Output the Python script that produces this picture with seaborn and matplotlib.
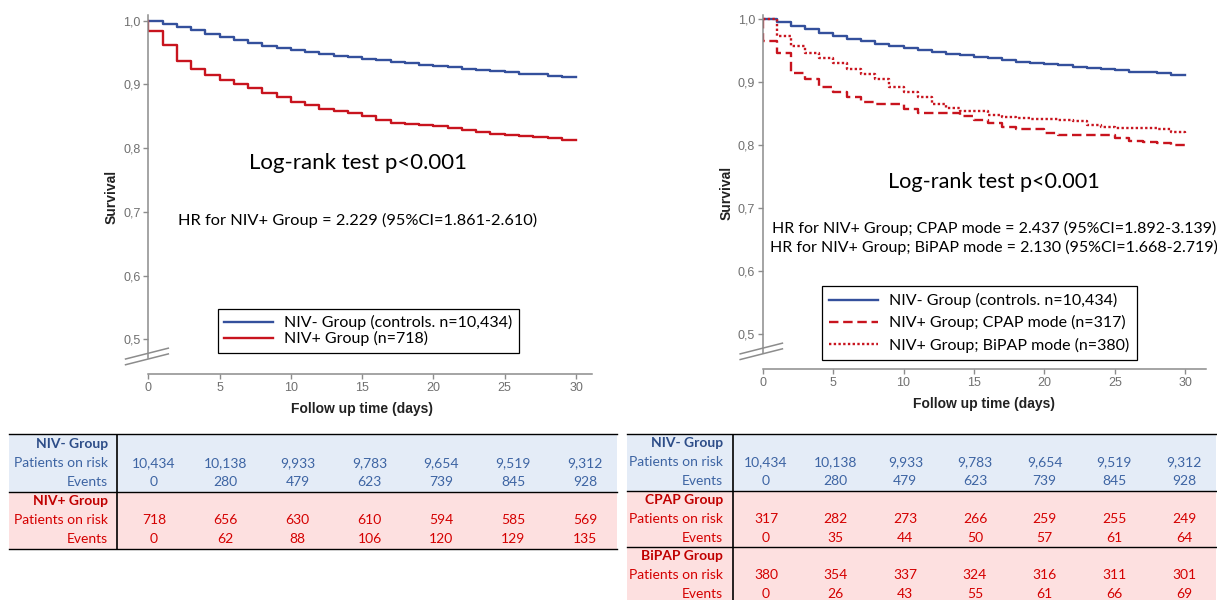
import seaborn as sns
import matplotlib.pyplot as plt
from matplotlib.ticker import FuncFormatter

# Kaplan-Meier survival, one value per follow-up day 0..30
DAYS = list(range(31))
niv_neg = [1.000, 0.995, 0.990, 0.985, 0.979, 0.974, 0.969, 0.965, 0.961, 0.957,
           0.954, 0.951, 0.948, 0.945, 0.943, 0.940, 0.938, 0.935, 0.933, 0.931,
           0.929, 0.927, 0.925, 0.923, 0.921, 0.919, 0.917, 0.916, 0.914, 0.912, 0.911]
niv_pos = [0.984, 0.962, 0.937, 0.925, 0.915, 0.907, 0.900, 0.895, 0.887, 0.880,
           0.872, 0.868, 0.862, 0.858, 0.855, 0.851, 0.844, 0.840, 0.838, 0.836,
           0.834, 0.831, 0.829, 0.826, 0.822, 0.821, 0.819, 0.817, 0.816, 0.813, 0.812]
cpap = [0.966, 0.947, 0.915, 0.905, 0.893, 0.885, 0.877, 0.868, 0.866, 0.866,
        0.857, 0.852, 0.852, 0.852, 0.846, 0.840, 0.836, 0.829, 0.826, 0.826,
        0.820, 0.817, 0.817, 0.816, 0.816, 0.811, 0.807, 0.806, 0.804, 0.801, 0.798]
bipap = [1.000, 0.974, 0.958, 0.947, 0.938, 0.930, 0.921, 0.913, 0.905, 0.893,
         0.884, 0.877, 0.866, 0.860, 0.855, 0.854, 0.848, 0.845, 0.843, 0.842,
         0.841, 0.840, 0.838, 0.833, 0.829, 0.828, 0.828, 0.827, 0.826, 0.821, 0.818]

# numbers-at-risk tables
TABLE_DAYS = [0, 5, 10, 15, 20, 25, 30]
neg_risk = [10434, 10138, 9933, 9783, 9654, 9519, 9312]
neg_events = [0, 280, 479, 623, 739, 845, 928]
pos_risk = [718, 656, 630, 610, 594, 585, 569]
pos_events = [0, 62, 88, 106, 120, 129, 135]
cpap_risk = [317, 282, 273, 266, 259, 255, 249]
cpap_events = [0, 35, 44, 50, 57, 61, 64]
bipap_risk = [380, 354, 337, 324, 316, 311, 301]
bipap_events = [0, 26, 43, 55, 61, 66, 69]

BLUE = "#34509c"
RED = "#c8141e"
AXGRAY = "#8c8c8c"
TXT = "Lato"

plt.rcParams["font.family"] = ["Liberation Sans", "DejaVu Sans"]


def curve(ax, surv, color, ls, label):
    # every curve starts at 1.0 at t=0 (drop at t=0 if first value < 1)
    sns.lineplot(x=[0] + DAYS, y=[1.0] + surv, ax=ax, color=color, lw=1.7,
                 linestyle=ls, drawstyle="steps-post", estimator=None,
                 sort=False, label=label)


def style_axes(ax, xmax, ymin, ymax, xlab, ylab):
    ax.set_xlim(0, xmax)
    ax.set_ylim(ymin, ymax)
    ax.set_xticks(range(0, 31, 5))
    ax.set_yticks([0.5, 0.6, 0.7, 0.8, 0.9, 1.0])
    ax.yaxis.set_major_formatter(FuncFormatter(lambda v, p: f"{v:.1f}".replace(".", ",")))
    for s in ("top", "right"):
        ax.spines[s].set_visible(False)
    ax.spines["left"].set_bounds(0.47, ymax)
    for s in ("left", "bottom"):
        ax.spines[s].set_color(AXGRAY)
        ax.spines[s].set_linewidth(1.1)
    ax.tick_params(color=AXGRAY, labelcolor="#707070", labelsize=9, length=3.5,
                   width=1, pad=2)
    ax.set_xlabel("Follow up time (days)", fontsize=10, fontweight="bold", color="#222222")
    ax.set_ylabel("Survival", fontsize=10, fontweight="bold", color="#222222")
    ax.xaxis.set_label_coords(*xlab)
    ax.yaxis.set_label_coords(*ylab)
    # axis break marks on the y axis
    for dy in (0.0, -0.009):
        ax.plot([-1.6, 1.4], [0.469 + dy, 0.486 + dy], color=AXGRAY, lw=1.1,
                clip_on=False)


def add_legend(ax, anchor, spacing, pad):
    leg = ax.legend(loc="upper left", bbox_to_anchor=anchor,
                    bbox_transform=ax.figure.transFigure, borderaxespad=0,
                    fancybox=False, edgecolor="black", framealpha=1,
                    prop={"family": TXT, "size": 11.5}, handlelength=3.05,
                    handletextpad=0.7, labelspacing=spacing, borderpad=pad)
    leg.get_frame().set_linewidth(0.9)


def draw_table(ax, blocks, xlim, label_x, sep_x, nrows):
    ax.set_xlim(*xlim)
    ax.set_ylim(nrows, 0)
    ax.axis("off")
    for b, (title, risk, events, bg, fg, head) in enumerate(blocks):
        top = 3 * b
        ax.axhspan(top, top + 3, color=bg, lw=0)
        ax.axhline(top, color="black", lw=1, clip_on=False)
        ax.text(label_x, top + 0.5, title, ha="right", va="center", color=head,
                fontsize=10, fontweight="bold", family=TXT)
        ax.text(label_x, top + 1.5, "Patients on risk", ha="right", va="center",
                color=fg, fontsize=10, family=TXT)
        ax.text(label_x, top + 2.5, "Events", ha="right", va="center",
                color=fg, fontsize=10, family=TXT)
        for d, r, e in zip(TABLE_DAYS, risk, events):
            ax.text(d, top + 1.5, f"{r:,}", ha="center", va="center", color=fg,
                    fontsize=10, family=TXT)
            ax.text(d, top + 2.5, f"{e:,}", ha="center", va="center", color=fg,
                    fontsize=10, family=TXT)
    ax.axhline(3 * len(blocks), color="black", lw=1, clip_on=False)
    ax.axvline(sep_x, color="black", lw=1.2)


fig = plt.figure(figsize=(12.17, 6.0), dpi=100)

# ---- left panel: NIV- vs NIV+
ax1 = fig.add_axes([0.1219, 0.3767, 0.3643, 0.5983])
curve(ax1, niv_neg, BLUE, "-", "NIV- Group (controls. n=10,434)")
curve(ax1, niv_pos, RED, "-", "NIV+ Group (n=718)")
style_axes(ax1, 31.1, 0.4455, 1.009, (0.482, -0.078), (-0.068, 0.493))
ax1.text(14.69, 0.776, "Log-rank test p<0.001", ha="center", va="center",
         fontsize=16, family=TXT)
ax1.text(14.7, 0.686, "HR for NIV+ Group = 2.229 (95%CI=1.861-2.610)",
         ha="center", va="center", fontsize=11.8, family=TXT)
add_legend(ax1, (218 / 1217, 1 - 309 / 600), 0.05, 0.4)

# ---- right panel: NIV- vs CPAP / BiPAP
ax2 = fig.add_axes([0.6267, 0.385, 0.3643, 0.5902])
curve(ax2, niv_neg, BLUE, "-", "NIV- Group (controls. n=10,434)")
curve(ax2, cpap, RED, (0, (4, 2)), "NIV+ Group; CPAP mode (n=317)")
curve(ax2, bipap, RED, (0, (1, 1)), "NIV+ Group; BiPAP mode (n=380)")
style_axes(ax2, 31.48, 0.445, 1.007, (0.5, -0.079), (-0.065, 0.497))
ax2.text(16.43, 0.742, "Log-rank test p<0.001", ha="center", va="center",
         fontsize=15.6, family=TXT)
ax2.text(16.45, 0.653,
         "HR for NIV+ Group; CPAP mode = 2.437 (95%CI=1.892-3.139)\n"
         "HR for NIV+ Group; BiPAP mode = 2.130 (95%CI=1.668-2.719)",
         ha="center", va="center", fontsize=11.5, family=TXT, linespacing=1.4)
add_legend(ax2, (822 / 1217, 1 - 286 / 600), 0.45, 0.45)

# ---- numbers-at-risk tables
BG_BLUE, BG_PINK = "#e4ecf7", "#fde0e0"
FG_BLUE, HD_BLUE = "#3d64a3", "#2d4d88"
FG_RED, HD_RED = "#d40000", "#c00000"

tab1 = fig.add_axes([9 / 1217, 51 / 600, 608 / 1217, 115 / 600])
draw_table(tab1, [("NIV- Group", neg_risk, neg_events, BG_BLUE, FG_BLUE, HD_BLUE),
                  ("NIV+ Group", pos_risk, pos_events, BG_PINK, FG_RED, HD_RED)],
           (-10.09, 32.22), -3.2, -2.575, 6)

tab2 = fig.add_axes([627 / 1217, -3.5 / 600, 589 / 1217, 169.5 / 600])
draw_table(tab2, [("NIV- Group", neg_risk, neg_events, BG_BLUE, FG_BLUE, HD_BLUE),
                  ("CPAP Group", cpap_risk, cpap_events, BG_PINK, FG_RED, HD_RED),
                  ("BiPAP Group", bipap_risk, bipap_events, BG_PINK, FG_RED, HD_RED)],
           (-9.98, 32.3), -3.09, -2.39, 9)

fig.savefig("out.png", dpi=100)
